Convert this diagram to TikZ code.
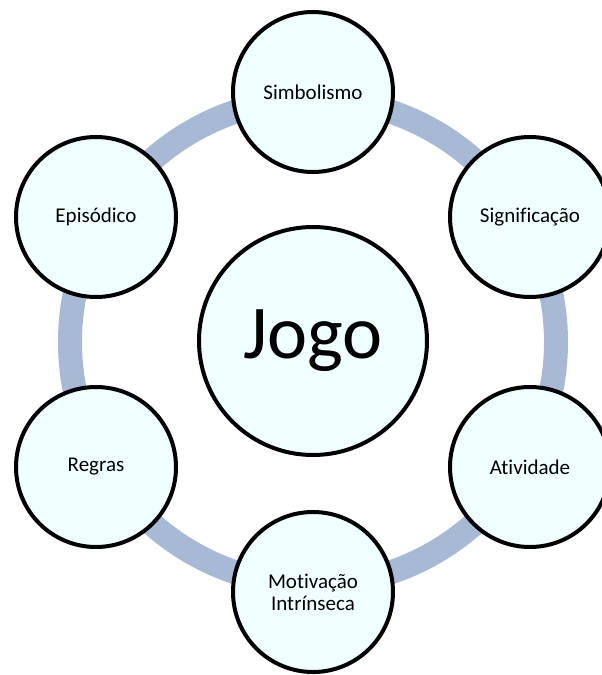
\documentclass[tikz,border=0pt]{standalone}
\usepackage{fontspec}
\setmainfont{Carlito}[Ligatures={NoCommon}]
\definecolor{ringblue}{RGB}{168,185,213}
\definecolor{cellfill}{RGB}{240,255,255}
\begin{document}
\begin{tikzpicture}[x=1pt,y=-1pt,
  ringline/.style={draw=ringblue,line width=24pt},
  outercirc/.style={circle,draw=black,line width=4pt,fill=cellfill,minimum size=160pt,inner sep=0pt,align=center,font=\fontsize{21}{22}\selectfont},
  centercirc/.style={circle,draw=black,line width=4pt,fill=cellfill,minimum size=228pt,inner sep=0pt,font=\fontsize{76}{80}\selectfont}]
\useasboundingbox (0,0) rectangle (602,675);
\clip (0,0) rectangle (602,675);
\coordinate (c) at (313,342);
\draw[ringline] (c) circle (243);
\node[centercirc] (jogo) at (313,341) {Jogo};
\node[outercirc] (simb) at (313,92) {Simbolismo};
\node[outercirc] (sign) at (530,217) {Significação};
\node[outercirc] (ativ) at (530,467) {Atividade};
\node[outercirc] (moti) at (313,592) {Motivação\\Intrínseca};
\node[outercirc] (regr) at (96,467) {Regras};
\node[outercirc] (epis) at (96,217) {Episódico};
\end{tikzpicture}
\end{document}
